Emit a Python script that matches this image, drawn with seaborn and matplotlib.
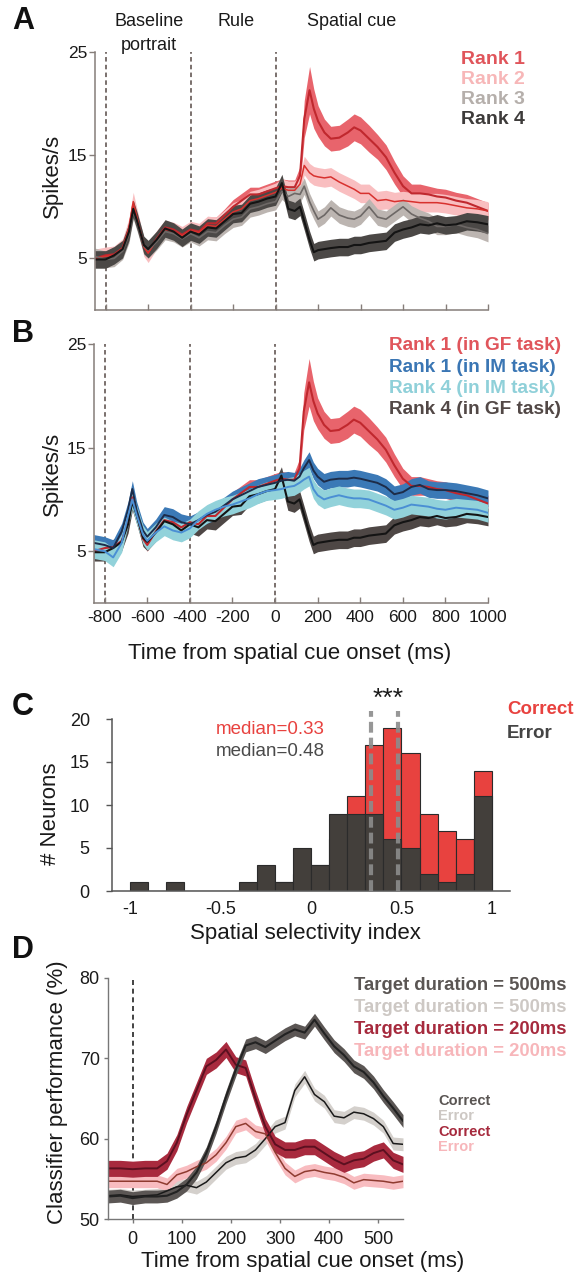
import numpy as np
import matplotlib
matplotlib.use("Agg")
import matplotlib.pyplot as plt
import seaborn as sns

sns.set_theme(style="ticks")
plt.rcParams['font.family'] = ['Liberation Sans', 'DejaVu Sans']
plt.rcParams['axes.unicode_minus'] = False

# ---------------- DATA ----------------
# Panels A/B: firing rate (spikes/s) vs time from spatial cue onset (ms)
t_ab = [-850, -800, -760, -720, -690, -670, -650, -620, -600, -560, -520, -480, -440, -400,
        -360, -320, -280, -240, -200, -160, -120, -80, -40, 0, 30, 60, 90, 115, 135, 160,
        180, 200, 230, 260, 300, 340, 370, 400, 440, 480, 520, 560, 600, 640, 680, 720,
        760, 800, 850, 900, 950, 1000]

rank1_gf = [5.0, 5.3, 5.4, 6.0, 7.8, 10.2, 8.6, 6.2, 5.6, 6.9, 8.0, 7.8, 7.3, 7.8,
            7.6, 8.4, 8.4, 9.2, 10.0, 10.6, 11.2, 11.2, 11.5, 11.8, 12.0, 11.9, 11.9, 13.0, 18.5, 21.3,
            19.5, 18.3, 17.2, 16.6, 16.7, 17.2, 17.7, 17.4, 16.6, 15.8, 14.8, 13.3, 12.0, 11.3, 11.3, 11.2,
            11.0, 10.9, 10.6, 10.4, 10.0, 9.6]
rank1_gf_sem = [0.6, 0.6, 0.6, 0.6, 0.6, 0.7, 0.6, 0.6, 0.6, 0.6, 0.6, 0.6, 0.6, 0.6,
                0.6, 0.6, 0.6, 0.6, 0.7, 0.7, 0.7, 0.7, 0.7, 0.7, 0.7, 0.7, 0.7, 0.9, 1.8, 2.3,
                1.9, 1.5, 1.3, 1.2, 1.2, 1.3, 1.3, 1.3, 1.3, 1.2, 1.2, 1.1, 1.0, 0.9, 0.9, 0.8,
                0.8, 0.8, 0.8, 0.8, 0.8, 0.8]
rank2_gf = [5.0, 5.2, 5.3, 6.0, 8.0, 10.5, 8.7, 6.1, 5.5, 6.8, 7.8, 7.6, 7.2, 7.7,
            7.5, 8.2, 8.1, 8.8, 9.5, 9.8, 10.6, 10.8, 11.1, 11.4, 11.8, 11.6, 11.6, 12.2, 14.0, 13.3,
            13.0, 12.9, 12.8, 12.9, 12.4, 12.0, 11.7, 11.3, 11.3, 10.6, 10.7, 10.5, 10.6, 10.5, 10.4, 10.4,
            10.4, 10.3, 10.1, 9.9, 9.8, 9.6]
rank3_gf = [5.2, 4.9, 5.0, 5.7, 7.3, 9.6, 8.3, 6.2, 5.8, 6.6, 7.6, 7.4, 6.9, 7.4,
            7.0, 7.6, 7.5, 8.2, 8.8, 9.0, 9.8, 10.0, 10.3, 10.5, 11.5, 11.0, 11.3, 11.2, 12.0, 10.5,
            9.6, 8.8, 9.2, 9.9, 9.2, 8.9, 8.8, 9.1, 10.0, 9.0, 8.8, 9.4, 10.0, 9.3, 8.9, 8.6,
            8.1, 8.1, 8.3, 8.0, 7.8, 7.4]
rank4_gf = [4.9, 4.9, 5.3, 5.9, 7.6, 9.8, 8.5, 6.3, 5.9, 6.8, 7.9, 7.6, 7.0, 7.6,
            7.3, 8.0, 7.9, 8.6, 9.3, 9.4, 10.3, 10.5, 10.8, 11.0, 12.3, 9.8, 9.6, 10.0, 8.6, 6.8,
            5.6, 5.8, 5.9, 6.0, 6.1, 6.1, 6.3, 6.3, 6.5, 6.6, 6.7, 7.5, 7.8, 8.0, 8.3, 8.2,
            8.4, 8.2, 8.3, 8.6, 8.5, 8.3]
rank1_im = [5.8, 5.6, 5.3, 6.9, 9.0, 11.0, 9.0, 7.0, 6.4, 7.3, 8.5, 8.3, 7.8, 7.6,
            8.0, 8.5, 8.8, 9.4, 10.0, 10.4, 10.8, 11.2, 11.4, 11.6, 11.8, 11.9, 11.8, 12.2, 13.0, 13.8,
            12.8, 12.2, 11.7, 11.9, 12.0, 12.0, 12.1, 12.0, 11.8, 11.6, 11.2, 10.5, 10.7, 11.2, 11.4, 11.0,
            10.9, 10.9, 10.8, 10.6, 10.4, 10.1]
rank4_im = [5.2, 5.0, 4.4, 5.8, 8.4, 10.0, 8.5, 6.6, 6.0, 6.8, 7.4, 7.0, 6.8, 7.2,
            8.0, 8.6, 9.0, 9.3, 9.5, 9.8, 10.1, 10.5, 10.8, 10.9, 11.0, 11.2, 11.3, 11.6, 11.9, 12.2,
            11.0, 10.4, 10.0, 10.2, 10.4, 10.2, 10.1, 10.1, 10.0, 9.7, 9.4, 9.0, 9.2, 9.5, 9.4, 9.3,
            9.1, 9.0, 9.2, 9.1, 9.0, 8.7]
sem_rank2 = 0.9
sem_rank3 = 0.8
sem_rank4 = 0.85
sem_rank1_im = 0.8
sem_rank4_im = 0.9

legend_a = ["Rank 1", "Rank 2", "Rank 3", "Rank 4"]
legend_b = ["Rank 1 (in GF task)", "Rank 1 (in IM task)", "Rank 4 (in IM task)", "Rank 4 (in GF task)"]
epochs = [-800, -400, 0]

# Panel C: histogram of spatial selectivity index
bin_edges = [-1.0, -0.9, -0.8, -0.7, -0.6, -0.5, -0.4, -0.3, -0.2, -0.1, 0.0,
             0.1, 0.2, 0.3, 0.4, 0.5, 0.6, 0.7, 0.8, 0.9, 1.0]
bin_centers = [-0.95, -0.85, -0.75, -0.65, -0.55, -0.45, -0.35, -0.25, -0.15, -0.05,
               0.05, 0.15, 0.25, 0.35, 0.45, 0.55, 0.65, 0.75, 0.85, 0.95]
counts_correct = [0, 0, 0, 0, 0, 0, 0, 1, 1, 2, 3, 6, 11, 17, 19, 16, 9, 7, 6, 14]
counts_error = [1, 0, 1, 0, 0, 0, 1, 3, 1, 5, 3, 9, 9, 9, 6, 5, 2, 1, 2, 11]
median_correct = 0.33
median_error = 0.48

# Panel D: classifier performance (%)
t_d = [-50, -25, 0, 25, 50, 70, 90, 110, 130, 150, 170, 190, 210, 230, 250, 270, 290, 310,
       330, 350, 370, 390, 410, 430, 450, 470, 490, 510, 530, 550]
perf_500_correct = [52.8, 52.9, 52.6, 52.8, 52.8, 52.9, 53.4, 54.3, 55.8, 58.2, 61.5, 65.2, 68.6, 71.6,
                    72.0, 71.4, 72.2, 73.0, 73.6, 73.2, 74.8, 73.1, 71.5, 70.4, 69.0, 68.3, 67.0, 65.3,
                    63.8, 62.2]
perf_500_error = [52.9, 53.0, 52.8, 52.9, 53.0, 53.5, 54.0, 54.2, 53.9, 54.6, 55.8, 57.0, 57.6, 57.8,
                  58.6, 60.0, 61.5, 62.0, 66.0, 67.7, 65.5, 64.6, 62.8, 62.6, 63.3, 63.1, 62.5, 61.5,
                  59.4, 59.3]
perf_200_correct = [56.3, 56.3, 56.2, 56.3, 56.3, 57.2, 59.5, 63.0, 66.0, 69.0, 69.8, 71.1, 69.2, 68.8,
                    65.0, 61.5, 59.3, 58.6, 58.6, 59.0, 59.0, 58.2, 57.4, 56.8, 57.3, 57.5, 58.2, 58.6,
                    57.3, 56.8]
perf_200_error = [54.7, 54.7, 54.7, 54.7, 54.7, 54.3, 55.5, 55.9, 56.5, 57.0, 58.0, 59.5, 61.5, 61.9,
                  60.9, 60.6, 58.3, 56.3, 55.3, 55.9, 56.1, 55.8, 55.6, 55.2, 54.5, 54.9, 54.8, 54.7,
                  54.5, 54.7]
sem_500_correct = 0.8
sem_500_error = 0.8
sem_200_correct = 1.0
sem_200_error = 0.8
legend_d = ["Target duration = 500ms", "Target duration = 500ms",
            "Target duration = 200ms", "Target duration = 200ms"]
legend_d2 = ["Correct", "Error", "Correct", "Error"]

# ---------------- FIGURE ----------------
W, H = 576, 1274
fig = plt.figure(figsize=(W / 100, H / 100), dpi=100)


def axes_px(l, t, r, b):
    return fig.add_axes([l / W, 1 - b / H, (r - l) / W, (b - t) / H])


def ftext(x, y, s, **kw):
    return fig.text(x / W, 1 - y / H, s, **kw)


def band(ax, t, m, s, fill, line, lw):
    m = np.asarray(m, float)
    s = np.asarray(s, float) if np.ndim(s) else np.full(len(m), s)
    ax.fill_between(t, m - s, m + s, color=fill, lw=0)
    sns.lineplot(x=t, y=m, ax=ax, color=line, lw=lw, estimator=None)


def ylabel_at(ax, text, x, y, size=16):
    ax.set_ylabel(text, fontsize=size, va='center', ha='center', color='#1a1a1a')
    ax.yaxis.set_label_coords(x / W, 1 - y / H, transform=fig.transFigure)


def xlabel_at(ax, text, x, y, size=16):
    ax.set_xlabel(text, fontsize=size, va='center', ha='center', color='#1a1a1a')
    ax.xaxis.set_label_coords(x / W, 1 - y / H, transform=fig.transFigure)


spine_ab = '#857d79'


def style_ab(ax, labels):
    ax.set_xlim(-850, 1000)
    ax.set_ylim(0, 25)
    sns.despine(ax=ax)
    for s in ['left', 'bottom']:
        ax.spines[s].set_color(spine_ab)
        ax.spines[s].set_linewidth(1.1)
    ax.set_yticks([5, 15, 25])
    ax.set_xticks(list(range(-800, 1001, 200)))
    ax.tick_params(axis='y', direction='out', length=4, width=1, color=spine_ab,
                   labelsize=12.5, pad=1.5, labelcolor='#1a1a1a')
    ax.tick_params(axis='x', direction='in', length=4, width=1, color=spine_ab,
                   labelsize=12.5, pad=5, labelcolor='#1a1a1a', labelbottom=labels)
    for e in epochs:
        ax.axvline(e, color='#6f6461', lw=1.3, ls=(0, (2.5, 1.8)), zorder=0.5)
    ax.set_facecolor('none')


# ---- Panel A ----
axA = axes_px(95, 52, 488, 310)
band(axA, t_ab, rank1_gf, rank1_gf_sem, '#e8646c', '#c0282e', 1.5)
band(axA, t_ab, rank2_gf, sem_rank2, '#f9bec0', '#d8312e', 1.1)
band(axA, t_ab, rank3_gf, sem_rank3, '#bcb5b1', '#6d6866', 1.2)
band(axA, t_ab, rank4_gf, sem_rank4, '#4b4846', '#141414', 1.5)
style_ab(axA, labels=False)
axA.set_xlabel('')
ylabel_at(axA, 'Spikes/s', 52, 176)
colors_a = ['#e0555b', '#f7b7b8', '#b5afab', '#3d3b3a']
for i, (lab, c) in enumerate(zip(legend_a, colors_a)):
    ftext(461, 60 + 19.8 * i, lab, color=c, fontsize=14, fontweight='bold', va='center', ha='left')
ftext(149, 22, 'Baseline', fontsize=13, ha='center', va='center', color='#1a1a1a')
ftext(149, 45, 'portrait', fontsize=13, ha='center', va='center', color='#1a1a1a')
ftext(236, 22, 'Rule', fontsize=13, ha='center', va='center', color='#1a1a1a')
ftext(352, 22, 'Spatial cue', fontsize=13, ha='center', va='center', color='#1a1a1a')

# ---- Panel B ----
axB = axes_px(94, 344, 488, 603)
band(axB, t_ab, rank1_gf, rank1_gf_sem, '#e8646c', '#c0282e', 1.5)
band(axB, t_ab, rank4_gf, sem_rank4, '#4e4745', '#141414', 1.5)
band(axB, t_ab, rank1_im, sem_rank1_im, '#3b79b6', '#1d2c48', 1.4)
band(axB, t_ab, rank4_im, sem_rank4_im, '#92d2da', '#4a8fd4', 1.4)
style_ab(axB, labels=True)
axB.set_xticklabels([str(v) for v in range(-800, 1001, 200)])
ylabel_at(axB, 'Spikes/s', 52, 474)
xlabel_at(axB, 'Time from spatial cue onset (ms)', 290, 653)
colors_b = ['#e0555b', '#3a76b4', '#8fd0d9', '#524846']
for i, (lab, c) in enumerate(zip(legend_b, colors_b)):
    ftext(389, 346 + 21.3 * i, lab, color=c, fontsize=13.7, fontweight='bold', va='center', ha='left')

# ---- Panel C ----
axC = axes_px(112, 719, 510, 891)
sns.histplot(x=bin_centers, weights=counts_correct, bins=bin_edges, ax=axC, color='#e8423f',
             alpha=1, edgecolor='#2b2b2b', linewidth=0.8)
sns.histplot(x=bin_centers, weights=counts_error, bins=bin_edges, ax=axC, color='#433f3b',
             alpha=1, edgecolor='#2b2b2b', linewidth=0.8)
axC.set_xlim(-1.1, 1.1)
axC.set_ylim(0, 20)
sns.despine(ax=axC)
for s in ['left', 'bottom']:
    axC.spines[s].set_color('#555555')
    axC.spines[s].set_linewidth(1.1)
axC.set_yticks([0, 5, 10, 15, 20])
axC.set_xticks([-1, -0.5, 0, 0.5, 1])
axC.set_xticklabels(['-1', '-0.5', '0', '0.5', '1'])
axC.tick_params(axis='y', direction='out', length=4, width=1, color='#555555',
                labelsize=13, pad=12, labelcolor='#1a1a1a')
axC.tick_params(axis='x', direction='out', length=0, labelsize=13, pad=7, labelcolor='#1a1a1a')
for m in [median_correct, median_error]:
    axC.plot([m, m], [0, 20.9], color='#8c8c8c', lw=3, ls=(0, (2.6, 1.2)), clip_on=False,
             alpha=0.9, zorder=5)
ylabel_at(axC, '# Neurons', 50, 814)
xlabel_at(axC, 'Spatial selectivity index', 305, 933)
ftext(388, 699, '***', fontsize=19, ha='center', va='center', color='#1a1a1a')
ftext(270, 729, 'median=0.33', fontsize=13.5, ha='center', va='center', color='#e8423f')
ftext(270, 752, 'median=0.48', fontsize=13.5, ha='center', va='center', color='#4a4a4a')
ftext(507, 709, 'Correct', fontsize=13.5, fontweight='bold', ha='left', va='center', color='#e8423f')
ftext(507, 734, 'Error', fontsize=13.5, fontweight='bold', ha='left', va='center', color='#444444')

# ---- Panel D ----
axD = axes_px(108, 978, 403, 1219)
band(axD, t_d, perf_500_error, sem_500_error, '#d4d0cc', '#1a1a1a', 1.1)
band(axD, t_d, perf_200_error, sem_200_error, '#f8bcc0', '#8f3b30', 1.1)
band(axD, t_d, perf_200_correct, sem_200_correct, '#a82a3e', '#5c1020', 1.4)
band(axD, t_d, perf_500_correct, sem_500_correct, '#5b5654', '#222222', 1.5)
axD.axvline(0, color='#222222', lw=1.2, ls=(0, (3, 2.2)), zorder=0.5)
axD.set_xlim(-50, 550)
axD.set_ylim(50, 80)
sns.despine(ax=axD)
for s in ['left', 'bottom']:
    axD.spines[s].set_color('#777777')
    axD.spines[s].set_linewidth(1.0)
axD.set_yticks([50, 60, 70, 80])
axD.set_xticks([0, 100, 200, 300, 400, 500])
axD.tick_params(axis='y', direction='out', length=3, width=1, color='#777777',
                labelsize=13, pad=3, labelcolor='#1a1a1a')
axD.tick_params(axis='x', direction='out', length=3, width=1, color='#777777',
                labelsize=13, pad=6, labelcolor='#1a1a1a')
ylabel_at(axD, 'Classifier performance (%)', 58, 1092)
xlabel_at(axD, 'Time from spatial cue onset (ms)', 303, 1262)
colors_d = ['#5a5553', '#cdc8c4', '#a62a3d', '#f7b6ba']
for i, (lab, c) in enumerate(zip(legend_d, colors_d)):
    ftext(566, 986 + 21.9 * i, lab, color=c, fontsize=13.3, fontweight='bold', va='center', ha='right')
for i, (lab, c) in enumerate(zip(legend_d2, colors_d)):
    ftext(438, 1101 + 15.4 * i, lab, color=c, fontsize=10.5, fontweight='bold', va='center', ha='left')

# Panel letters
for letter, y in zip('ABCD', [21, 334, 707, 950]):
    ftext(12, y, letter, fontsize=22, fontweight='bold', ha='left', va='center', color='#111111')

fig.savefig('out.png', dpi=100)
